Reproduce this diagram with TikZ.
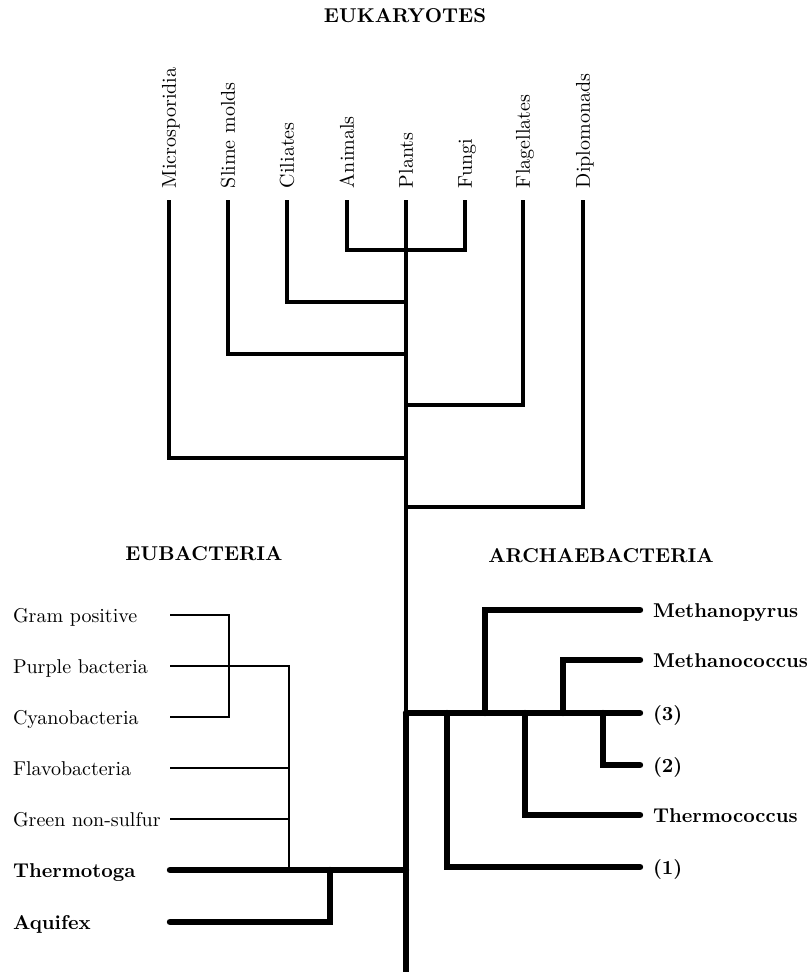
\documentclass[tikz,border=0pt]{standalone}
\usepackage{tikz}
\usetikzlibrary{positioning}

\tikzset{
    eukname/.style={rotate=90, anchor=west, inner sep=0pt, outer sep=6pt, text height=6.8pt, text depth=0pt},
    eubname/.style={anchor=west, inner sep=0pt, outer sep=0pt, text width=78.5pt, align=left, text height=7.5pt, text depth=0pt},
    arcname/.style={anchor=west, inner sep=0pt, outer sep=6.5pt, text height=7.5pt, text depth=0pt, font=\bfseries},
    groupname/.style={font=\bfseries},
    eukline/.style={line width=1.8pt},
    thinline/.style={line width=1.3pt},
    thickline/.style={line width=3.2pt, line cap=round},
}

\begin{document}
\begin{tikzpicture}[x=0.5pt, y=-0.5pt]
    \useasboundingbox (0,0) rectangle (807,974);
    \def\trunkx{406}
    \def\tipy{200}
    \def\arcy{713}

    \node[groupname] (eukaryotes) at (405,16) {EUKARYOTES};
    \node[groupname] (eubacteria) at (204,554) {EUBACTERIA};
    \node[groupname] (archaebacteria) at (601,556) {ARCHAEBACTERIA};

    % eukaryotes
    \node[eukname] (micro) at (169,\tipy) {Microsporidia};
    \node[eukname] (slime) at (228,\tipy) {Slime molds};
    \node[eukname] (ciliates) at (287,\tipy) {Ciliates};
    \node[eukname] (animals) at (347,\tipy) {Animals};
    \node[eukname] (plants) at (\trunkx,\tipy) {Plants};
    \node[eukname] (fungi) at (465,\tipy) {Fungi};
    \node[eukname] (flag) at (523,\tipy) {Flagellates};
    \node[eukname] (diplo) at (583,\tipy) {Diplomonads};

    \coordinate (af) at (\trunkx,250);
    \coordinate (cil) at (\trunkx,302);
    \coordinate (sli) at (\trunkx,354);
    \coordinate (fla) at (\trunkx,405);
    \coordinate (mic) at (\trunkx,458);
    \coordinate (dip) at (\trunkx,507);
    \coordinate (arc) at (\trunkx,\arcy);
    \coordinate (eubroot) at (\trunkx,870);
    \coordinate (root) at (\trunkx,972);

    \draw[eukline] (animals.west) |- (af) -| (fungi.west);
    \draw[eukline] (ciliates.west) |- (cil);
    \draw[eukline] (slime.west) |- (sli);
    \draw[eukline] (flag.west) |- (fla);
    \draw[eukline] (micro.west) |- (mic);
    \draw[eukline] (diplo.west) |- (dip);
    \draw[eukline] (plants.west) -- (arc);
    \draw[line width=3.2pt] (arc) -- (root);

    % eubacteria
    \node[eubname] (gram) at (13,615) {Gram positive};
    \node[eubname] (purple) at (13,666) {Purple bacteria};
    \node[eubname] (cyano) at (13,717) {Cyanobacteria};
    \node[eubname] (flavo) at (13,768) {Flavobacteria};
    \node[eubname] (green) at (13,819) {Green non-sulfur};
    \node[eubname, font=\bfseries] (thermotoga) at (13,870) {Thermotoga};
    \node[eubname, font=\bfseries] (aquifex) at (13,922) {Aquifex};

    \coordinate (gc) at (229,666);
    \coordinate (eub) at (289,870);
    \coordinate (aq) at (330,870);

    \draw[thinline] (gram.east) -| (gc) |- (cyano.east);
    \draw[thinline] (purple.east) -| (eub);
    \draw[thinline] (flavo.east) -- (flavo.east -| eub);
    \draw[thinline] (green.east) -- (green.east -| eub);
    \draw[thickline] (thermotoga.east) -- (eubroot);
    \draw[thickline] (aquifex.east) -| (aq);

    % archaebacteria
    \node[arcname] (methanopyrus) at (640,610) {Methanopyrus};
    \node[arcname] (methanococcus) at (640,660) {Methanococcus};
    \node[arcname] (three) at (640,\arcy) {(3)};
    \node[arcname] (two) at (640,765) {(2)};
    \node[arcname] (thermococcus) at (640,815) {Thermococcus};
    \node[arcname] (one) at (640,867) {(1)};

    \draw[thickline] (arc) -- (three.west);
    \draw[thickline] (485,\arcy) |- (methanopyrus.west);
    \draw[thickline] (563,\arcy) |- (methanococcus.west);
    \draw[thickline] (603,\arcy) |- (two.west);
    \draw[thickline] (525,\arcy) |- (thermococcus.west);
    \draw[thickline] (447,\arcy) |- (one.west);
\end{tikzpicture}
\end{document}
